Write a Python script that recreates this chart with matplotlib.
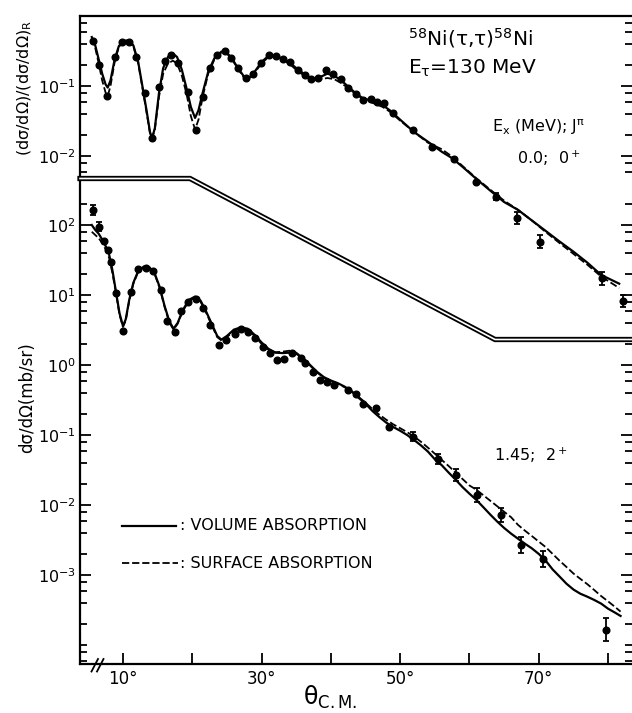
import matplotlib
matplotlib.use('Agg')
import matplotlib.pyplot as plt
from matplotlib import ticker
from matplotlib.lines import Line2D

# elastic 58Ni(t,t), ratio to Rutherford, Ex = 0.0 MeV 0+
el_theta = [5.7, 6.55, 7.75, 8.85, 9.8, 10.8, 11.9, 13.15, 14.2, 15.2, 16.0, 17.0,
            17.95, 19.4, 20.6, 21.55, 22.5, 23.5, 24.7, 25.6, 26.6, 27.8, 28.75,
            29.9, 31.1, 32.1, 33.1, 34.1, 35.2, 36.2, 37.1, 38.1, 39.3, 40.3, 41.5,
            42.4, 43.6, 44.6, 45.8, 46.7, 47.7, 48.9, 51.8, 54.6, 57.7, 60.9, 63.8,
            66.9, 70.2, 79.1, 82.2]
el_ratio = [0.44, 0.20, 0.072, 0.26, 0.43, 0.43, 0.26, 0.080, 0.018, 0.098, 0.23,
            0.28, 0.215, 0.083, 0.0235, 0.069, 0.18, 0.28, 0.32, 0.25, 0.18, 0.13,
            0.15, 0.21, 0.275, 0.27, 0.24, 0.22, 0.17, 0.144, 0.124, 0.128, 0.17,
            0.15, 0.124, 0.093, 0.077, 0.063, 0.066, 0.06, 0.057, 0.041, 0.0235,
            0.0136, 0.009, 0.0043, 0.0026, 0.0013, 0.0006, 0.000178, 0.000085]
# error bar half-widths in decades (0 = smaller than the symbol)
el_err = [0] * 46 + [0.05, 0.09, 0.09, 0.09, 0.09]

el_vol_theta = [5.5, 6.0, 6.5, 7.0, 7.5, 7.8, 8.2, 8.8, 9.4, 10.0, 10.8, 11.5, 12.2,
                12.8, 13.4, 13.9, 14.2, 14.6, 15.2, 15.8, 16.5, 17.2, 17.8, 18.5,
                19.2, 19.8, 20.4, 20.9, 21.5, 22.3, 23.2, 24.2, 25.0, 25.8, 26.6,
                27.5, 28.2, 29.0, 30.0, 31.0, 32.0, 33.0, 34.2, 35.3, 36.5, 37.5,
                38.5, 39.5, 40.5, 41.5, 42.5, 43.5, 44.5, 45.5, 46.5, 47.5, 48.5,
                50.0, 52.0, 54.0, 56.0, 57.5, 59.0, 61.0, 63.0, 65.0, 67.0, 69.0,
                71.0, 73.0, 75.0, 77.0, 79.0, 81.6]
el_vol = [0.50, 0.38, 0.24, 0.15, 0.105, 0.095, 0.12, 0.24, 0.37, 0.44, 0.45, 0.38,
          0.22, 0.10, 0.045, 0.022, 0.018, 0.025, 0.08, 0.18, 0.26, 0.29, 0.26, 0.17,
          0.09, 0.05, 0.035, 0.045, 0.08, 0.16, 0.25, 0.31, 0.30, 0.24, 0.18, 0.135,
          0.13, 0.16, 0.22, 0.27, 0.27, 0.245, 0.21, 0.17, 0.14, 0.125, 0.135, 0.15,
          0.14, 0.12, 0.098, 0.08, 0.068, 0.063, 0.059, 0.053, 0.045, 0.033, 0.022,
          0.016, 0.0115, 0.0093, 0.007, 0.0047, 0.0032, 0.0022, 0.0017, 0.0012,
          0.00085, 0.0006, 0.00043, 0.0003, 0.0002, 0.00015]
el_surf = [0.48, 0.35, 0.21, 0.12, 0.08, 0.072, 0.10, 0.22, 0.36, 0.43, 0.44, 0.37,
           0.21, 0.095, 0.042, 0.021, 0.018, 0.024, 0.07, 0.15, 0.21, 0.23, 0.21,
           0.14, 0.075, 0.037, 0.024, 0.033, 0.07, 0.15, 0.24, 0.30, 0.29, 0.235,
           0.175, 0.13, 0.125, 0.155, 0.21, 0.26, 0.265, 0.24, 0.20, 0.16, 0.135,
           0.12, 0.125, 0.13, 0.125, 0.11, 0.093, 0.078, 0.066, 0.06, 0.055, 0.05,
           0.043, 0.032, 0.022, 0.0155, 0.0125, 0.0098, 0.0072, 0.0048, 0.0033,
           0.0023, 0.0017, 0.0012, 0.00082, 0.00057, 0.0004, 0.00028, 0.00019,
           0.00013]

# inelastic to 1.45 MeV 2+, dsigma/dOmega in mb/sr
in_theta = [5.73, 6.6, 7.3, 7.9, 8.3, 9.0, 10.05, 11.15, 12.1, 13.26, 14.36, 15.5,
            16.4, 17.5, 18.4, 19.4, 20.5, 21.55, 22.5, 23.8, 24.9, 26.1, 27.1, 28.0,
            29.0, 30.2, 31.2, 32.2, 33.2, 34.4, 35.7, 36.3, 37.4, 38.5, 39.5, 40.5,
            42.4, 43.6, 44.6, 46.5, 48.4, 51.8, 55.5, 58.1, 61.1, 64.5, 67.4, 70.6,
            79.7]
in_xs = [164, 95, 60, 44, 30, 10.8, 3.06, 11.1, 23.5, 24.5, 22, 11.8, 4.2, 3.0, 5.9,
         8.0, 8.7, 6.5, 3.7, 1.93, 2.28, 2.8, 3.27, 3.0, 2.45, 1.82, 1.47, 1.17, 1.22,
         1.47, 1.24, 1.06, 0.80, 0.61, 0.57, 0.52, 0.44, 0.39, 0.28, 0.24, 0.13,
         0.095, 0.046, 0.027, 0.0139, 0.0072, 0.0027, 0.0017, 0.000166]
in_err = [0.07, 0.07] + [0] * 39 + [0.07, 0.07, 0.086, 0.1, 0.1, 0.115, 0.115, 0.17]

in_curve_theta = [5.5, 6.0, 6.5, 7.0, 7.5, 8.0, 8.5, 9.0, 9.5, 10.0, 10.4, 10.9, 11.5,
                  12.2, 13.0, 13.8, 14.6, 15.3, 16.0, 16.7, 17.3, 17.9, 18.6, 19.5,
                  20.4, 21.2, 22.0, 22.8, 23.6, 24.2, 25.0, 26.0, 27.0, 28.0, 29.0,
                  30.0, 31.0, 32.0, 33.0, 34.0, 35.0, 36.0, 37.0, 38.0, 39.0, 40.0,
                  41.0, 42.0, 43.0, 44.0, 45.0, 46.0, 47.0, 48.0, 49.0, 50.0, 51.0,
                  52.0, 53.0, 54.0, 55.0, 56.0, 57.0, 58.0, 59.0, 60.0, 61.0, 62.0,
                  63.0, 64.0, 65.0, 66.0, 67.0, 68.0, 69.0, 70.0, 71.0, 72.0, 73.0,
                  74.0, 75.0, 76.0, 77.0, 78.0, 79.0, 80.0, 81.0, 81.8]
in_vol = [100, 85, 75, 62, 50, 38, 22, 11, 5.5, 3.6, 4.5, 8.5, 15, 22, 25.5, 25, 20,
          13, 7, 4.2, 3.3, 4.0, 6.0, 8.5, 9.5, 8.3, 5.8, 3.9, 2.6, 2.3, 2.6, 3.2, 3.45,
          3.3, 2.7, 2.1, 1.7, 1.5, 1.48, 1.5, 1.45, 1.25, 1.0, 0.80, 0.67, 0.60, 0.55,
          0.49, 0.42, 0.34, 0.28, 0.22, 0.18, 0.15, 0.13, 0.115, 0.10, 0.085, 0.071,
          0.058, 0.045, 0.037, 0.029, 0.023, 0.018, 0.0145, 0.0118, 0.0093, 0.0073,
          0.0058, 0.0047, 0.0039, 0.0033, 0.0028, 0.0024, 0.0020, 0.0016, 0.0012,
          0.00095, 0.00075, 0.00062, 0.00054, 0.00049, 0.00044, 0.00039, 0.00033,
          0.00029, 0.00026]
in_surf = [80, 72, 65, 55, 45, 34, 20, 10.5, 5.2, 3.5, 4.3, 8.2, 14.5, 21.5, 25, 24.5,
           19.5, 12.5, 6.8, 4.0, 3.2, 3.9, 5.8, 8.2, 9.2, 8.0, 5.6, 3.7, 2.5, 2.25,
           2.5, 3.05, 3.3, 3.15, 2.6, 2.0, 1.65, 1.52, 1.55, 1.6, 1.5, 1.25, 0.98,
           0.78, 0.66, 0.59, 0.54, 0.48, 0.42, 0.35, 0.29, 0.235, 0.195, 0.165, 0.142,
           0.125, 0.11, 0.095, 0.08, 0.066, 0.054, 0.044, 0.036, 0.029, 0.0235, 0.019,
           0.0165, 0.0138, 0.0115, 0.0096, 0.008, 0.0067, 0.0052, 0.0043, 0.0036,
           0.003, 0.0025, 0.002, 0.0016, 0.0013, 0.00105, 0.00088, 0.00074, 0.00061,
           0.0005, 0.00042, 0.00035, 0.0003]

x_ticks = [10, 20, 30, 40, 50, 60, 70, 80]
x_labelled = [10, 30, 50, 70]

W, H = 632, 713
plt.rcParams['font.family'] = ['DejaVu Sans']
plt.rcParams['mathtext.default'] = 'regular'

fig = plt.figure(figsize=(W / 100, H / 100), dpi=100)


def fx(px):
    return px / W


def fy(py):
    return 1 - py / H


def yerr_of(vals, errs):
    lo = [v - v / 10 ** e for v, e in zip(vals, errs)]
    hi = [v * 10 ** e - v for v, e in zip(vals, errs)]
    return [lo, hi]


left, right, top, bottom = 80, 632, 16, 664
rect = [fx(left), fy(bottom), (right - left) / W, (bottom - top) / H]

# lower frame carries the 2+ data, upper (transparent) one the elastic ratio
ax_in = fig.add_axes(rect)
ax_el = fig.add_axes(rect, sharex=ax_in)
ax_el.patch.set_visible(False)

ax_in.set_xlim(3.8, 83.45)
ax_in.set_yscale('log')
ax_in.set_ylim(10 ** (2 - 439 / 70), 10 ** (2 + 209 / 70))
ax_el.set_yscale('log')
ax_el.set_ylim(10 ** (-648 / 70), 1.0)

# --- elastic ---
ax_el.plot(el_vol_theta, el_vol, '-', color='black', lw=1.6)
ax_el.plot(el_vol_theta, el_surf, '--', color='black', lw=1.3, dashes=(4, 1.6))
ax_el.errorbar(el_theta, el_ratio, yerr=yerr_of(el_ratio, el_err), fmt='o',
               color='black', ms=4.8, elinewidth=1.3, capsize=2.5, capthick=1.3)

# --- inelastic 2+ ---
ax_in.plot(in_curve_theta, in_vol, '-', color='black', lw=1.6)
ax_in.plot(in_curve_theta, in_surf, '--', color='black', lw=1.3, dashes=(4, 1.6))
ax_in.errorbar(in_theta, in_xs, yerr=yerr_of(in_xs, in_err), fmt='o',
               color='black', ms=4.8, elinewidth=1.3, capsize=2.5, capthick=1.3)

# axes frame
for side in ['left', 'bottom', 'top']:
    ax_in.spines[side].set_linewidth(1.6)
ax_in.spines['right'].set_visible(False)
for side in ax_el.spines:
    ax_el.spines[side].set_visible(False)


def log_label(v, pos):
    if v <= 0:
        return ''
    import math
    return r'$10^{%d}$' % round(math.log10(v))


# y ticks: elastic ones only above the dividing line
el_major = [1e-1, 1e-2]
el_minor = [m * 10.0 ** d for d in (-1, -2, -3) for m in (2, 4, 6, 8)
            if m * 10.0 ** d >= 10 ** -2.25]
in_major = [1e2, 1e1, 1e0, 1e-1, 1e-2, 1e-3]
in_minor = [m * 10.0 ** d for d in (2, 1, 0, -1, -2, -3, -4, -5) for m in (1, 2, 4, 6, 8)
            if 10 ** -4.25 < m * 10.0 ** d < 10 ** 2.5 and m * 10.0 ** d not in in_major]

ax_el.yaxis.set_major_locator(ticker.FixedLocator(el_major))
ax_el.yaxis.set_minor_locator(ticker.FixedLocator(el_minor))
ax_el.yaxis.set_major_formatter(ticker.FuncFormatter(log_label))
ax_el.yaxis.set_minor_formatter(ticker.NullFormatter())
ax_in.yaxis.set_major_locator(ticker.FixedLocator(in_major))
ax_in.yaxis.set_minor_locator(ticker.FixedLocator(in_minor))
ax_in.yaxis.set_major_formatter(ticker.FuncFormatter(log_label))
ax_in.yaxis.set_minor_formatter(ticker.NullFormatter())

for a in (ax_el, ax_in):
    a.tick_params(axis='y', which='both', direction='in', left=True, right=True,
                  labelleft=True, labelright=False, width=1.3, labelsize=11.5, pad=3)
    a.tick_params(axis='y', which='major', length=8)
    a.tick_params(axis='y', which='minor', length=5)

ax_in.xaxis.set_major_locator(ticker.FixedLocator(x_ticks))
ax_in.xaxis.set_major_formatter(ticker.FuncFormatter(
    lambda v, p: '%d°' % v if int(round(v)) in x_labelled else ''))
ax_in.xaxis.set_minor_locator(ticker.NullLocator())
ax_in.tick_params(axis='x', which='major', direction='in', length=8, width=1.3,
                  bottom=True, top=False, labelsize=12, pad=4)
ax_el.tick_params(axis='x', which='both', bottom=False, top=False,
                  labelbottom=False)

# double line separating the two panels
sep_x = [80, 190, 495, 632]
sep_y = [178.5, 178.5, 339.5, 339.5]
fig.add_artist(Line2D([fx(v) for v in sep_x], [fy(v) for v in sep_y],
                      color='black', lw=3.8, solid_joinstyle='miter'))
fig.add_artist(Line2D([fx(v) for v in sep_x], [fy(v) for v in sep_y],
                      color='white', lw=1.2, solid_joinstyle='miter'))

# axis break mark
for x0 in (91.5, 97.0):
    fig.add_artist(Line2D([fx(x0), fx(x0 + 6.5)], [fy(671.5), fy(659)],
                          color='black', lw=1.3))

# labels
fig.text(fx(25), fy(88), '(dσ/dΩ)/(dσ/dΩ)$_R$', rotation=90,
         ha='center', va='center', fontsize=11.5)
fig.text(fx(27), fy(398), 'dσ/dΩ(mb/sr)', rotation=90,
         ha='center', va='center', fontsize=12)
fig.text(fx(330), fy(697), 'θ$_{C.M.}$', ha='center', va='center', fontsize=17)

fig.text(fx(408), fy(38), '$^{58}$Ni(τ,τ)$^{58}$Ni', ha='left', va='center',
         fontsize=14.5)
fig.text(fx(408), fy(68), 'E$_τ$=130 MeV', ha='left', va='center', fontsize=14.5)
fig.text(fx(492), fy(127), 'E$_x$ (MeV); J$^π$', ha='left', va='center',
         fontsize=11.5)
fig.text(fx(517), fy(158), '0.0;  0$^+$', ha='left', va='center', fontsize=11.5)
fig.text(fx(494), fy(455), '1.45;  2$^+$', ha='left', va='center', fontsize=11.5)

# key
fig.add_artist(Line2D([fx(122), fx(176)], [fy(526), fy(526)], color='black', lw=1.6))
fig.add_artist(Line2D([fx(122), fx(178)], [fy(563), fy(563)], color='black', lw=1.3,
                      ls='--', dashes=(4, 1.6)))
fig.text(fx(180), fy(526), ': VOLUME ABSORPTION', ha='left', va='center', fontsize=11.5)
fig.text(fx(180), fy(563), ': SURFACE ABSORPTION', ha='left', va='center',
         fontsize=11.5)

fig.savefig('out.png', dpi=100)
